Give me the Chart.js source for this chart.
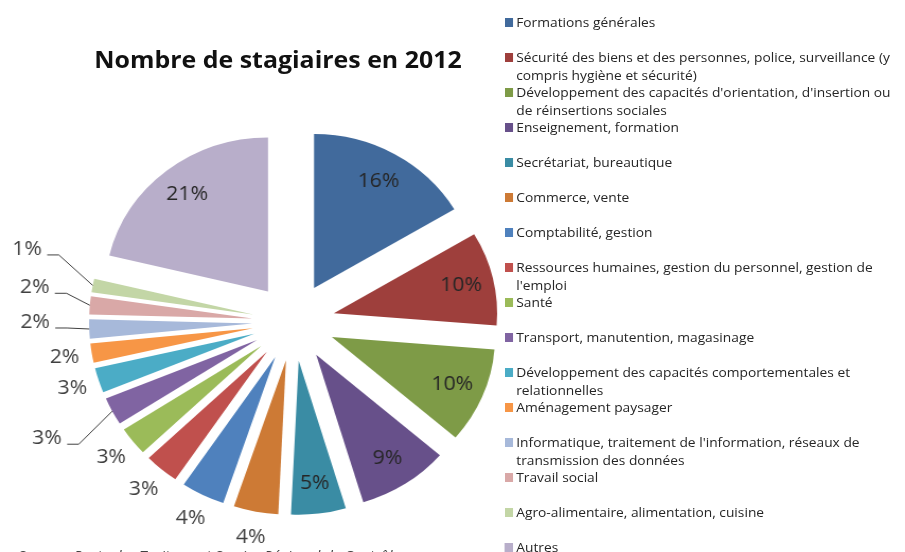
<!DOCTYPE html>
<html lang="fr">

<head>
    <meta charset="UTF-8">
    <title>Nombre de stagiaires en 2012</title>
    <script src="https://cdn.jsdelivr.net/npm/chart.js"></script>
    <style>
        html, body { margin: 0; padding: 0; background: #fff; overflow: hidden; }
        body { width: 905px; height: 552px; position: relative; font-family: "Open Sans", sans-serif; }
        /* the original picture is a bit wider than tall, everything is stretched the same way */
        .page { position: absolute; left: 0; top: 0; width: 854px; height: 552px; transform: scaleX(1.06); transform-origin: 0 0; overflow: hidden; }
        #graf { position: absolute; left: 0; top: 0; }
        .titulo { position: absolute; left: 89px; top: 47.5px; font-size: 23.5px; font-weight: bold; line-height: 1; color: #111; white-space: nowrap; }
        .fonte { position: absolute; left: 17px; top: 549px; font-size: 14px; font-style: italic; line-height: 1; color: #404040; white-space: nowrap; }
        .item { position: absolute; left: 476px; width: 376px; font-size: 13px; line-height: 18px; color: #262626; }
        .item .cor { position: absolute; left: 0; top: 5px; width: 8px; height: 9px; }
        .item .txt { margin-left: 11px; }
    </style>
</head>

<body>
    <div class="page">
        <canvas id="graf" width="854" height="552"></canvas>
        <div class="titulo">Nombre de stagiaires en 2012</div>
        <div id="legenda"></div>
        <div class="fonte">Source : Poste des Traitement Service Régional de Contrôle</div>
    </div>

<script>
    const categorias = [
        'Formations générales',
        'Sécurité des biens et des personnes, police, surveillance (y compris hygiène et sécurité)',
        "Développement des capacités d'orientation, d'insertion ou de réinsertions sociales",
        'Enseignement, formation',
        'Secrétariat, bureautique',
        'Commerce, vente',
        'Comptabilité, gestion',
        "Ressources humaines, gestion du personnel, gestion de l'emploi",
        'Santé',
        'Transport, manutention, magasinage',
        'Développement des capacités comportementales et relationnelles',
        'Aménagement paysager',
        "Informatique, traitement de l'information, réseaux de transmission des données",
        'Travail social',
        'Agro-alimentaire, alimentation, cuisine',
        'Autres'
    ];

    // part de chaque domaine (%)
    const parts = [16.4, 9.8, 10.0, 9.0, 5.4, 4.4, 4.3, 3.4, 3.0, 2.9, 2.6, 2.0, 2.0, 1.9, 1.4, 21.2];

    const cores = [
        '#416A9C', '#9E3F3C', '#7E9B47', '#67508A', '#3A8CA4', '#CD7A35',
        '#4F81BD', '#C0504D', '#9BBB59', '#8064A2', '#4BACC6', '#F79646',
        '#A7B9DA', '#D9A8A7', '#C3D6A6', '#B8AECA'
    ];

    // onde vai o rótulo: dentro, fora, ou fora com linha [dx, dy]
    const posRotulo = ['in', 'in', 'in', 'in', 'in', 'out', 'out', 'out', 'out',
        [-61.5, 27], 'out', 'out', [-51, -7], [-52, -18], [-62, -36.5], 'in'];

    const EXPLODE = 39;

    // legenda em html
    const legenda = document.getElementById('legenda');
    categorias.forEach((nome, i) => {
        const d = document.createElement('div');
        d.className = 'item';
        d.style.top = (12.5 + 35 * i) + 'px';
        d.innerHTML = `<span class="cor" style="background:${cores[i]}"></span><div class="txt">${nome}</div>`;
        legenda.appendChild(d);
    });

    // desenha cada fatia deslocada para fora (como no Excel)
    const explodir = {
        id: 'explodir',
        beforeDatasetDraw(chart, args) {
            const ctx = chart.ctx;
            args.meta.data.forEach(arc => {
                const meio = (arc.startAngle + arc.endAngle) / 2;
                ctx.save();
                ctx.translate(Math.cos(meio) * EXPLODE, Math.sin(meio) * EXPLODE);
                arc.draw(ctx, chart.chartArea);
                ctx.restore();
            });
            return false;
        }
    };

    const rotulos = {
        id: 'rotulos',
        afterDatasetsDraw(chart) {
            const ctx = chart.ctx;
            const meta = chart.getDatasetMeta(0);
            const dados = chart.data.datasets[0].data;
            const total = dados.reduce((a, b) => a + b, 0);
            ctx.save();
            ctx.font = '20px "Open Sans"';
            ctx.textAlign = 'center';
            ctx.textBaseline = 'middle';
            meta.data.forEach((arc, i) => {
                const meio = (arc.startAngle + arc.endAngle) / 2;
                const cos = Math.cos(meio), sin = Math.sin(meio);
                const txt = Math.round(dados[i] / total * 100) + '%';
                const p = posRotulo[i];
                let x, y;
                if (p === 'in') {
                    const r = EXPLODE + arc.outerRadius * 0.8;
                    x = arc.x + cos * r; y = arc.y + sin * r;
                    ctx.fillStyle = '#262626';
                } else if (p === 'out') {
                    const r = EXPLODE + arc.outerRadius + 26;
                    x = arc.x + cos * r; y = arc.y + sin * r;
                    ctx.fillStyle = '#404040';
                } else {
                    const r = EXPLODE + arc.outerRadius;
                    const ax = arc.x + cos * r, ay = arc.y + sin * r;
                    x = ax + p[0]; y = ay + p[1];
                    const dir = x + ctx.measureText(txt).width / 2;
                    ctx.strokeStyle = '#404040';
                    ctx.lineWidth = 1;
                    ctx.beginPath();
                    ctx.moveTo(ax, ay);
                    ctx.lineTo(dir + 16, y + 6);
                    ctx.lineTo(dir + 5, y + 6);
                    ctx.stroke();
                    ctx.fillStyle = '#404040';
                }
                ctx.fillText(txt, x, y);
            });
            ctx.restore();
        }
    };

    new Chart(document.getElementById('graf'), {
        type: 'pie',
        data: {
            labels: categorias,
            datasets: [{
                data: parts,
                backgroundColor: cores,
                borderWidth: 0
            }]
        },
        options: {
            responsive: false,
            animation: false,
            radius: 154,
            layout: { padding: { left: 77, right: 377, top: 122, bottom: 30 } },
            plugins: {
                legend: { display: false },
                title: { display: false },
                tooltip: { enabled: false }
            },
            events: []
        },
        plugins: [explodir, rotulos]
    });
</script>

</body>

</html>
